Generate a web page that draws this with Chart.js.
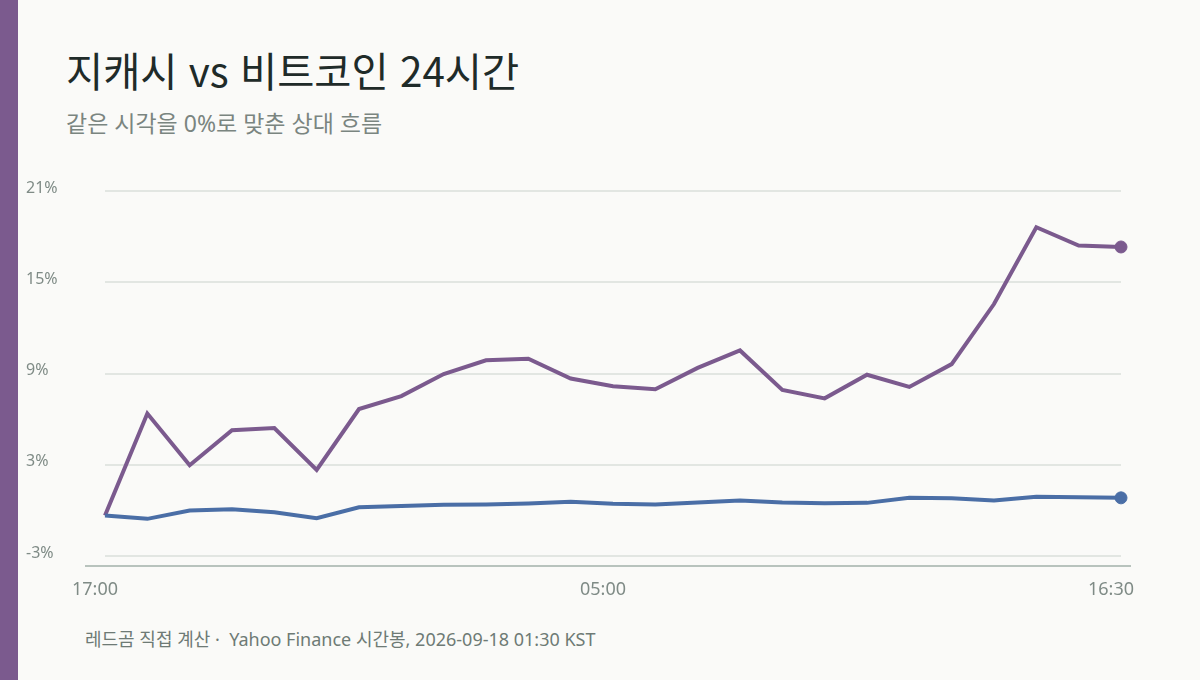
<!DOCTYPE html>
<html lang="ko">
<head>
<meta charset="utf-8">
<title>지캐시 vs 비트코인 24시간</title>
<script src="https://cdn.jsdelivr.net/npm/chart.js@4.4.1/dist/chart.umd.min.js"></script>
<style>
    html, body {
        margin: 0;
        padding: 0;
        width: 1200px;
        height: 680px;
        background: #fafaf8;
        overflow: hidden;
        font-family: "Noto Sans", "Noto Sans CJK KR", sans-serif;
    }
    .side-bar {
        position: absolute;
        left: 0;
        top: 0;
        width: 18px;
        height: 680px;
        background: #7b5a8e;
    }
    .title {
        position: absolute;
        left: 66px;
        top: 50px;
        margin: 0;
        font-family: "Noto Sans CJK KR", "Noto Sans", sans-serif;
        font-size: 40.4px;
        font-weight: 400;
        line-height: 1;
        color: #1f2b29;
    }
    .subtitle {
        position: absolute;
        left: 66px;
        top: 112px;
        font-size: 23px;
        line-height: 1;
        color: #7a8580;
    }
    .footer {
        position: absolute;
        left: 85px;
        top: 630px;
        font-size: 18px;
        line-height: 1;
        color: #6e7a75;
    }
    #chart-wrap {
        position: absolute;
        left: 0;
        top: 0;
        width: 1200px;
        height: 680px;
    }
</style>
</head>
<body>
<div class="side-bar"></div>
<h1 class="title">지캐시 vs 비트코인 24시간</h1>
<div class="subtitle">같은 시각을 0%로 맞춘 상대 흐름</div>
<div class="footer">레드곰 직접 계산 ·&nbsp; Yahoo Finance 시간봉, 2026-09-18 01:30 KST</div>
<div id="chart-wrap"><canvas id="chart"></canvas></div>

<script>
const hourLabels = [
    '17:00', '18:00', '19:00', '20:00', '21:00', '22:00', '23:00', '00:00',
    '01:00', '02:00', '03:00', '04:00', '05:00', '06:00', '07:00', '08:00',
    '09:00', '10:00', '11:00', '12:00', '13:00', '14:00', '15:00', '16:00', '16:30'];

// 지캐시 상대 변화 (%)
const zecValues = [
    0, 6.7, 3.3, 5.6, 5.75, 3.0, 7.0, 7.85, 9.3, 10.2, 10.3, 9.0, 8.5,
    8.3, 9.7, 10.85, 8.25, 7.7, 9.25, 8.45, 9.95, 13.9, 18.95, 17.75, 17.65];

// 비트코인 상대 변화 (%)
const btcValues = [
    0, -0.22, 0.33, 0.41, 0.22, -0.18, 0.54, 0.63, 0.7, 0.72, 0.79, 0.9, 0.77,
    0.72, 0.85, 0.98, 0.85, 0.81, 0.83, 1.16, 1.13, 0.98, 1.23, 1.2, 1.16];

const xTickIndexes = [0, 12, 24];
const yTickValues = [-2.67, 3.33, 9.33, 15.33, 21.33];
const yMin = -3.32;
const yMax = 21.33;

const ZEC_COLOR = '#7b5a8e';
const BTC_COLOR = '#4a6ea6';
const TICK_FONT = '"Noto Sans", "Noto Sans CJK KR", sans-serif';

function lastPointOnly(values, radius) {
    return values.map((v, i) => i === values.length - 1 ? radius : 0);
}

// x축 기준선은 플롯 영역보다 조금 넓게 그린다
const baseLinePlugin = {
    id: 'baseLine',
    beforeDatasetsDraw(chart) {
        const {ctx, chartArea} = chart;
        ctx.save();
        ctx.strokeStyle = '#b8c3bd';
        ctx.lineWidth = 2;
        ctx.beginPath();
        ctx.moveTo(chartArea.left - 20, chartArea.bottom);
        ctx.lineTo(chartArea.right + 10, chartArea.bottom);
        ctx.stroke();
        ctx.restore();
    }
};

new Chart(document.getElementById('chart').getContext('2d'), {
    type: 'line',
    data: {
        labels: hourLabels,
        datasets: [{
            label: '비트코인',
            data: btcValues,
            borderColor: BTC_COLOR,
            backgroundColor: BTC_COLOR,
            borderWidth: 4,
            tension: 0,
            pointRadius: lastPointOnly(btcValues, 6),
            pointBorderWidth: 1,
            pointHoverRadius: 6
        }, {
            label: '지캐시',
            data: zecValues,
            borderColor: ZEC_COLOR,
            backgroundColor: ZEC_COLOR,
            borderWidth: 4,
            tension: 0,
            pointRadius: lastPointOnly(zecValues, 6),
            pointBorderWidth: 1,
            pointHoverRadius: 6
        }]
    },
    options: {
        responsive: true,
        maintainAspectRatio: false,
        animation: false,
        layout: {
            padding: {left: 26, top: 191, right: 79, bottom: 0}
        },
        plugins: {
            legend: {display: false},
            title: {display: false},
            tooltip: {enabled: false}
        },
        scales: {
            x: {
                grid: {display: false, drawTicks: false},
                border: {display: false},
                ticks: {
                    autoSkip: false,
                    maxRotation: 0,
                    padding: 13,
                    labelOffset: -10,
                    color: '#7f8b86',
                    font: {family: TICK_FONT, size: 18},
                    callback: function(value, index) {
                        return xTickIndexes.includes(index) ? hourLabels[index] : '';
                    }
                },
                afterFit: function(scale) {
                    scale.height = 114;
                }
            },
            y: {
                min: yMin,
                max: yMax,
                grid: {color: '#e2e6e2', lineWidth: 2, drawTicks: false},
                border: {display: false},
                ticks: {
                    crossAlign: 'far',
                    labelOffset: -3,
                    color: '#7f8b86',
                    font: {family: TICK_FONT, size: 16},
                    callback: function(value) {
                        return Math.round(value) + '%';
                    }
                },
                afterBuildTicks: function(scale) {
                    scale.ticks = yTickValues.map(v => ({value: v}));
                },
                afterFit: function(scale) {
                    scale.width = 79;
                }
            }
        }
    },
    plugins: [baseLinePlugin]
});
</script>
</body>
</html>
